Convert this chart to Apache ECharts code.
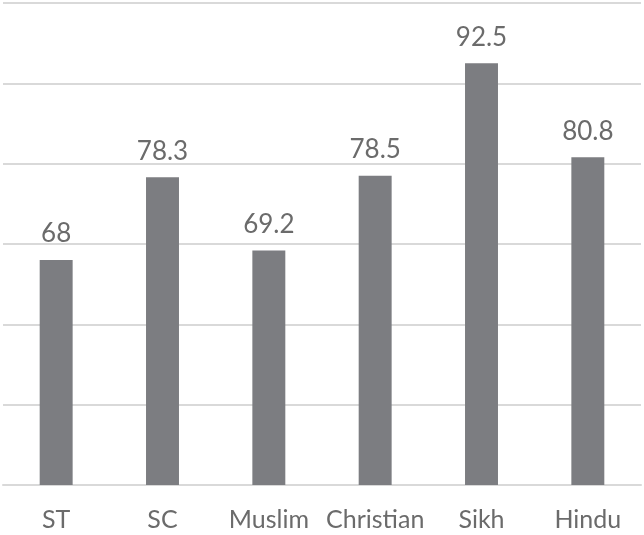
<!DOCTYPE html>
<html>
<head>
<meta charset="utf-8">
<script src="https://cdn.jsdelivr.net/npm/echarts@6/dist/echarts.min.js"></script>
<style>
  html, body { margin: 0; padding: 0; background: #fff; }
  #chart { width: 644px; height: 535px; }
</style>
</head>
<body>
<div id="chart"></div>
<script>
const categorias = ['ST', 'SC', 'Muslim', 'Christian', 'Sikh', 'Hindu'];
const valores = [68, 78.3, 69.2, 78.5, 92.5, 80.8];
const eixoMin = 40;
const eixoMax = 100;
const passo = 10;

const chart = echarts.init(document.getElementById('chart'));
chart.setOption({
  animation: false,
  grid: { left: 3, right: 3, top: 3, bottom: 50, containLabel: false },
  xAxis: {
    type: 'category',
    data: categorias,
    axisLine: { lineStyle: { color: '#d9d9d9', width: 2 } },
    axisTick: { show: false },
    axisLabel: { interval: 0, color: '#6b6b6b', fontFamily: 'Lato', fontSize: 25, margin: 22 }
  },
  yAxis: {
    type: 'value',
    min: eixoMin, max: eixoMax, interval: passo,
    axisLabel: { show: false },
    axisLine: { show: false },
    axisTick: { show: false },
    splitLine: { lineStyle: { color: '#d9d9d9', width: 2 } }
  },
  series: [{
    type: 'bar',
    data: valores,
    barWidth: '31%',
    itemStyle: { color: '#7c7d81' },
    label: {
      show: true, position: 'top', distance: 13,
      color: '#6b6b6b', fontFamily: 'Lato', fontSize: 26
    }
  }]
});
</script>
</body>
</html>
